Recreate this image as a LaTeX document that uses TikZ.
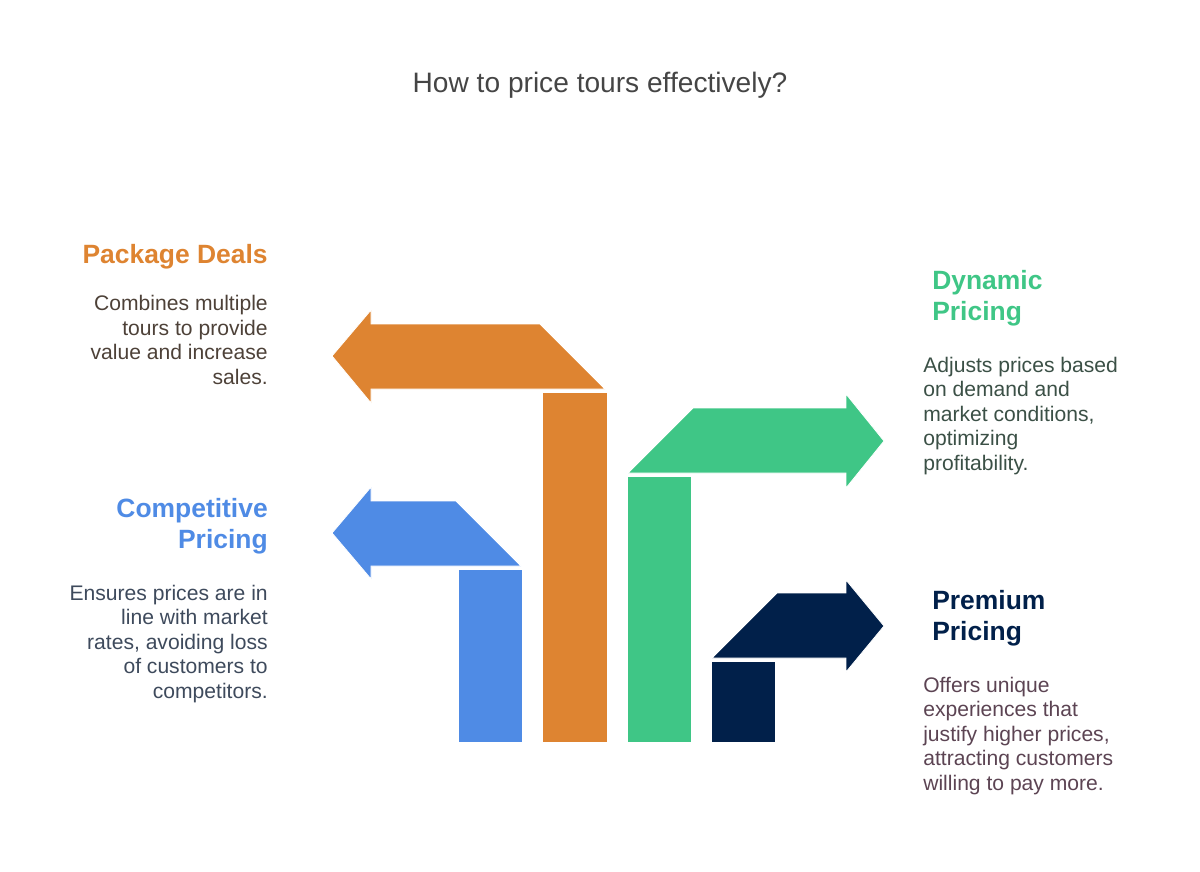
\documentclass[tikz,border=0pt]{standalone}
\usepackage{fontspec}
\setmainfont{Liberation Sans}
\usepackage{xcolor}
\usetikzlibrary{positioning}

\definecolor{pkgorange}{HTML}{DE8431}
\definecolor{compblue}{HTML}{4F8BE5}
\definecolor{dyngreen}{HTML}{3FC686}
\definecolor{premnavy}{HTML}{01204A}
\definecolor{titlegray}{HTML}{454545}
\definecolor{pkgtext}{HTML}{4D4138}
\definecolor{comptext}{HTML}{3E4A5C}
\definecolor{dyntext}{HTML}{3B5046}
\definecolor{premtext}{HTML}{5C4453}

\begin{document}
\begin{tikzpicture}[
x=0.025cm,
y=-0.025cm,
every node/.style={inner sep=0pt},
heading/.style={font=\fontsize{18.8}{21.7}\selectfont\bfseries},
body/.style={font=\fontsize{15}{17.4}\selectfont},
leftblock/.style={align=right,anchor=base east},
rightblock/.style={align=left,anchor=base west},
bentarrow/.style={draw=white,line width=0.6pt}
]
\useasboundingbox (0,0) rectangle (1200,872);

% title
\node[font=\fontsize{20}{24}\selectfont,text=titlegray,anchor=base] (title) at (600,93) {How to price tours effectively?};

% bent arrows
\filldraw[bentarrow,fill=pkgorange] (332,356) -- (371,310) -- (371,324) -- (540,324) -- (605,389) -- (371,389) -- (371,403) -- cycle;
\filldraw[bentarrow,fill=pkgorange] (542,392) rectangle (607,742);
\filldraw[bentarrow,fill=compblue] (332,533) -- (371,487) -- (371,501) -- (456,501) -- (521,566) -- (371,566) -- (371,579) -- cycle;
\filldraw[bentarrow,fill=compblue] (458,569) rectangle (522,742);
\filldraw[bentarrow,fill=dyngreen] (628,473) -- (693,408) -- (846,408) -- (846,394) -- (884,441) -- (846,488) -- (846,473) -- cycle;
\filldraw[bentarrow,fill=dyngreen] (627,476) rectangle (691,742);
\filldraw[bentarrow,fill=premnavy] (712,658) -- (777,593) -- (846,593) -- (846,580) -- (884,626) -- (846,672) -- (846,658) -- cycle;
\filldraw[bentarrow,fill=premnavy] (711,661) rectangle (775,742);

% left texts (base = last line)
\node[heading,leftblock,text=pkgorange] (pkghead) at (268,264) {Package Deals};
\node[body,leftblock,text=pkgtext] (pkgbody) at (268,384) {Combines multiple\\tours to provide\\value and increase\\sales.};
\node[heading,leftblock,text=compblue] (comphead) at (268,548) {Competitive\\Pricing};
\node[body,leftblock,text=comptext] (compbody) at (268,698) {Ensures prices are in\\line with market\\rates, avoiding loss\\of customers to\\competitors.};

% right texts
\node[heading,rightblock,text=dyngreen] (dynhead) at (932,320) {Dynamic\\Pricing};
\node[body,rightblock,text=dyntext] (dynbody) at (923,470) {Adjusts prices based\\on demand and\\market conditions,\\optimizing\\profitability.};
\node[heading,rightblock,text=premnavy] (premhead) at (932,640) {Premium\\Pricing};
\node[body,rightblock,text=premtext] (prembody) at (923,790) {Offers unique\\experiences that\\justify higher prices,\\attracting customers\\willing to pay more.};
\end{tikzpicture}
\end{document}
